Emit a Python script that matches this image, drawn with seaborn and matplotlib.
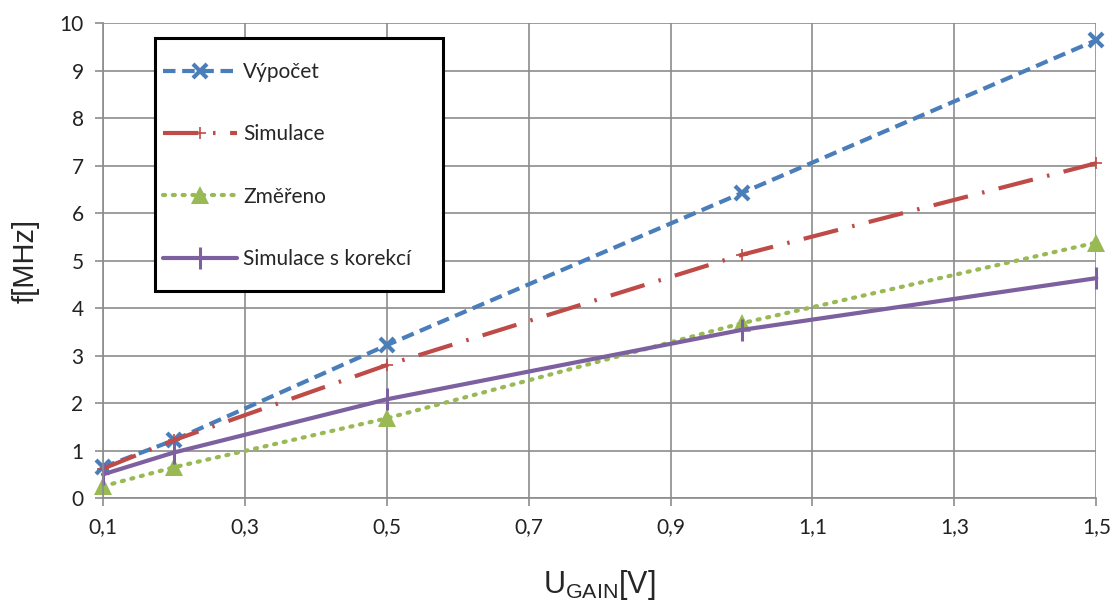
import matplotlib
matplotlib.use("Agg")
import matplotlib.pyplot as plt
from matplotlib.patches import Rectangle
import seaborn as sns

u_gain = [0.1, 0.2, 0.5, 1.0, 1.5]
vypocet = [0.65, 1.22, 3.22, 6.42, 9.64]
simulace = [0.62, 1.22, 2.80, 5.12, 7.05]
zmereno = [0.25, 0.65, 1.68, 3.68, 5.38]
korekce = [0.50, 0.96, 2.08, 3.54, 4.63]
labels = ["Výpočet", "Simulace", "Změřeno", "Simulace s korekcí"]
x_ticks = [0.1, 0.3, 0.5, 0.7, 0.9, 1.1, 1.3, 1.5]
x_ticklabels = ["0,1", "0,3", "0,5", "0,7", "0,9", "1,1", "1,3", "1,5"]
y_ticks = list(range(0, 11))

sns.set_theme(style="white")
plt.rcParams["font.family"] = ["Lato", "DejaVu Sans"]
plt.rcParams["mathtext.fontset"] = "custom"
plt.rcParams["mathtext.rm"] = "Liberation Sans"

fig = plt.figure(figsize=(11.13, 6.06), dpi=100)
ax = fig.add_axes([0.0925, 0.178, 0.8925, 0.784])

lw = 3.0
sns.lineplot(x=u_gain, y=vypocet, ax=ax, color="#4A7EBB", linewidth=lw,
             linestyle=(0, (3, 1.6)), marker="x", markersize=10, markeredgewidth=3,
             markeredgecolor="#4A7EBB", label=labels[0], clip_on=False)
sns.lineplot(x=u_gain, y=simulace, ax=ax, color="#BE4B48", linewidth=lw,
             linestyle=(0, (8.5, 3.5, 0.6, 3.5)), marker="+", markersize=8, markeredgewidth=1.2,
             markeredgecolor="#BE4B48", label=labels[1], clip_on=False)
sns.lineplot(x=u_gain, y=zmereno, ax=ax, color="#98B954", linewidth=lw,
             linestyle=(0, (0.5, 1.85)), dash_capstyle="round", marker="^", markersize=13,
             markeredgewidth=0, label=labels[2], clip_on=False)
sns.lineplot(x=u_gain, y=korekce, ax=ax, color="#7D60A0", linewidth=lw,
             linestyle="-", marker="|", markersize=16, markeredgewidth=2.2,
             markeredgecolor="#7D60A0", label=labels[3], clip_on=False)

ax.set_xlim(0.1, 1.5)
ax.set_ylim(0, 10)
ax.set_xticks(x_ticks)
ax.set_xticklabels(x_ticklabels)
ax.set_yticks(y_ticks)
ax.grid(True, color="#8C8C8C", linewidth=1.2)
for s in ["left", "bottom"]:
    ax.spines[s].set_color("#8C8C8C")
    ax.spines[s].set_linewidth(1.2)
for s in ["top", "right"]:
    ax.spines[s].set_visible(False)
ax.tick_params(axis="both", labelsize=15, labelcolor="#222222", color="#8C8C8C",
               length=6, width=1.2, direction="out", left=True, bottom=True, pad=8)

ax.set_ylabel("f[MHz]", fontsize=21, family="Liberation Sans", labelpad=14)
ax.set_xlabel(r"U$_{\mathrm{GAIN}}$[V]", fontsize=22, family="Liberation Sans", labelpad=22)

# legend frame box
box = Rectangle((0.0524, 0.436), 0.342 - 0.0524, 0.968 - 0.436, transform=ax.transAxes,
                facecolor="white", edgecolor="black", linewidth=2.2, zorder=4, clip_on=False)
ax.add_patch(box)

leg = ax.legend(loc="upper left", bbox_to_anchor=(0.0604, 0.918), fontsize=15,
                frameon=False, handlelength=3.55, labelspacing=2.03,
                borderpad=0, handletextpad=0.3, borderaxespad=0)
leg.set_zorder(5)

fig.savefig("out.png", dpi=100)
